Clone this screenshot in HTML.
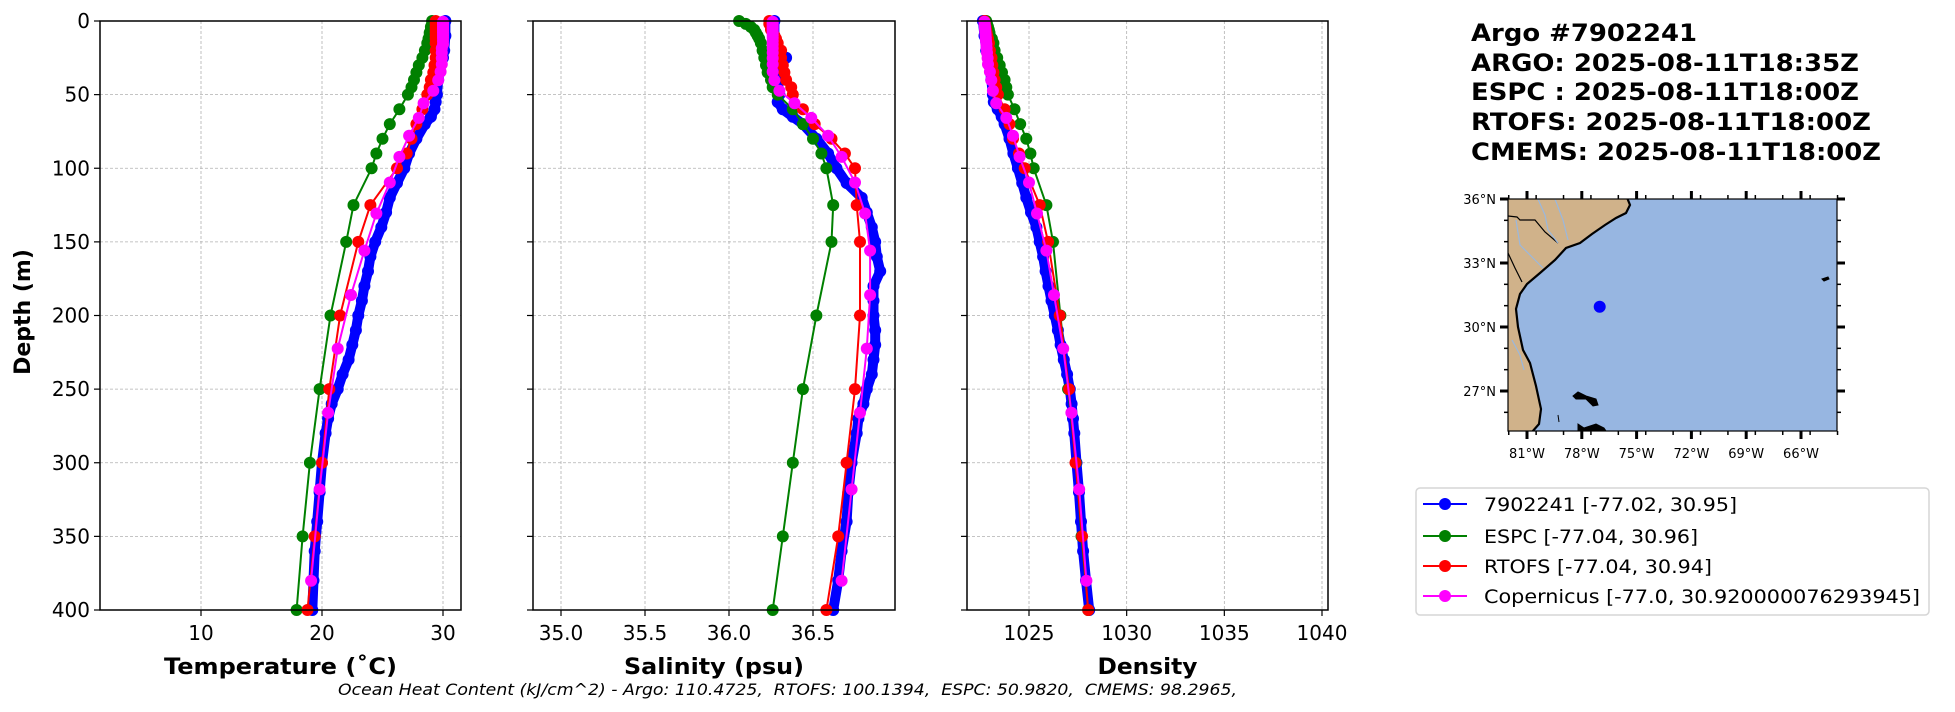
<!DOCTYPE html>
<html><head><meta charset="utf-8"><style>
html,body{margin:0;padding:0;background:#fff;}
svg{display:block;font-family:"DejaVu Sans","Liberation Sans",sans-serif;}
</style></head><body>
<svg id="fig" width="1955" height="712" viewBox="0 0 1955 712" xmlns="http://www.w3.org/2000/svg">
<g id="panels"></g>
<g id="map"></g>
<g id="titleBlock">
 <text x="1471" y="41" font-size="24" font-weight="bold" textLength="226" lengthAdjust="spacingAndGlyphs">Argo #7902241</text>
 <text x="1471" y="71" font-size="24" font-weight="bold" textLength="388" lengthAdjust="spacingAndGlyphs">ARGO: 2025-08-11T18:35Z</text>
 <text x="1471" y="100" font-size="24" font-weight="bold" textLength="388" lengthAdjust="spacingAndGlyphs">ESPC : 2025-08-11T18:00Z</text>
 <text x="1471" y="130" font-size="24" font-weight="bold" textLength="400" lengthAdjust="spacingAndGlyphs">RTOFS: 2025-08-11T18:00Z</text>
 <text x="1471" y="160" font-size="24" font-weight="bold" textLength="410" lengthAdjust="spacingAndGlyphs">CMEMS: 2025-08-11T18:00Z</text>
</g>
<g id="legend">
 <rect x="1416" y="488" width="513" height="127" rx="4" fill="#fff" stroke="#d6d6d6" stroke-width="1.5"/>
</g>
<text x="338" y="695" font-size="16" font-style="italic" style="white-space:pre" textLength="899" lengthAdjust="spacingAndGlyphs">Ocean Heat Content (kJ/cm^2) - Argo: 110.4725,  RTOFS: 100.1394,  ESPC: 50.9820,  CMEMS: 98.2965,</text>
</svg>
<script>
// ---------- data ----------
const depthTicks = [0,50,100,150,200,250,300,350,400];
const tempTicks = [10,20,30];
const salTicks = [35.0,35.5,36.0,36.5];
const salTickLabels = ["35.0","35.5","36.0","36.5"];
const densTicks = [1025,1030,1035,1040];

const argoDepth = [0,10,20,25,30,40,50,55,60,65,70,80,90,100,110,120,130,140,150,160,170,180,190,200,210,220,230,240,250,260,270,280,300,320,340,360,380,400];
const argoTemp  = [30.2,30.2,30.1,30.0,29.8,29.6,29.5,29.4,29.3,29.0,28.5,27.8,27.2,26.8,26.2,25.6,25.3,24.9,24.4,24.0,23.8,23.5,23.3,23.0,22.8,22.5,22.2,21.7,21.3,20.8,20.5,20.3,20.0,19.8,19.6,19.4,19.3,19.2];
const argoSal   = [36.27,36.27,36.28,36.34,36.29,36.29,36.30,36.29,36.32,36.38,36.44,36.52,36.59,36.64,36.70,36.79,36.82,36.85,36.87,36.88,36.90,36.86,36.86,36.86,36.87,36.87,36.86,36.85,36.82,36.80,36.77,36.76,36.73,36.71,36.70,36.67,36.65,36.62];
const argoDens  = [1022.64,1022.72,1022.81,1022.9,1022.95,1023.07,1023.15,1023.2,1023.4,1023.6,1023.75,1024.0,1024.2,1024.43,1024.65,1024.86,1025.1,1025.38,1025.55,1025.72,1025.85,1026.0,1026.15,1026.32,1026.48,1026.62,1026.78,1026.95,1027.09,1027.18,1027.25,1027.32,1027.43,1027.56,1027.66,1027.77,1027.92,1028.08];

const espcDepth = [0,2,4,6,8,10,12,15,20,25,30,35,40,45,50,60,70,80,90,100,125,150,200,250,300,350,400];
const espcTemp  = [29.1,29.1,29.0,29.0,28.9,28.9,28.8,28.7,28.5,28.3,28.0,27.8,27.6,27.4,27.1,26.4,25.6,25.0,24.5,24.1,22.6,22.0,20.7,19.8,19.0,18.4,17.9];
const espcSal   = [36.06,36.10,36.13,36.15,36.16,36.17,36.18,36.19,36.20,36.21,36.22,36.23,36.25,36.26,36.29,36.38,36.44,36.50,36.55,36.58,36.62,36.61,36.52,36.44,36.38,36.32,36.26];
const espcDens  = [1022.81,1022.85,1022.9,1022.94,1022.98,1023.0,1023.1,1023.18,1023.24,1023.37,1023.5,1023.62,1023.75,1023.84,1023.92,1024.26,1024.55,1024.86,1025.07,1025.24,1025.89,1026.23,1026.61,1027.0,1027.4,1027.69,1028.03];

const rtofsDepth = [0,2,4,6,8,10,12,15,20,25,30,35,40,45,50,60,70,80,90,100,125,150,200,250,300,350,400];
const rtofsTemp  = [29.4,29.4,29.4,29.4,29.4,29.4,29.4,29.4,29.4,29.4,29.3,29.2,29.0,28.9,28.7,28.3,27.8,27.4,27.0,26.2,24.0,23.0,21.5,20.6,20.0,19.4,18.8];
const rtofsSal   = [36.24,36.24,36.25,36.25,36.26,36.27,36.28,36.29,36.31,36.31,36.32,36.33,36.34,36.37,36.38,36.44,36.51,36.61,36.69,36.75,36.76,36.78,36.78,36.75,36.70,36.65,36.58];
const rtofsDens  = [1022.72,1022.75,1022.78,1022.8,1022.83,1022.86,1022.9,1022.95,1023.0,1023.08,1023.12,1023.18,1023.24,1023.32,1023.41,1023.75,1024.0,1024.18,1024.49,1024.78,1025.55,1025.98,1026.57,1027.05,1027.38,1027.72,1028.03];

const cmemsDepth = [0.5,1.5,2.6,3.8,5.1,6.4,7.9,9.6,11.4,13.5,15.8,18.5,21.6,25.2,29.4,34.4,40.3,47.4,55.8,65.8,77.9,92.3,109.7,130.7,155.9,186.1,222.5,266.0,318.1,380.2];
const cmemsTemp  = [30.0,30.0,30.0,30.0,30.0,30.0,30.0,30.0,30.0,30.0,30.0,29.9,29.9,29.9,29.9,29.8,29.6,29.2,28.4,28.0,27.2,26.4,25.6,24.5,23.5,22.4,21.3,20.5,19.8,19.1];
const cmemsSal   = [36.26,36.26,36.26,36.26,36.26,36.26,36.26,36.26,36.26,36.26,36.26,36.26,36.26,36.26,36.26,36.26,36.27,36.30,36.39,36.49,36.59,36.67,36.75,36.81,36.84,36.84,36.82,36.78,36.73,36.67];
const cmemsDens  = [1022.72,1022.72,1022.73,1022.74,1022.75,1022.76,1022.77,1022.78,1022.79,1022.8,1022.82,1022.83,1022.85,1022.88,1022.9,1023.0,1023.07,1023.15,1023.32,1023.84,1024.18,1024.52,1025.0,1025.41,1025.89,1026.28,1026.75,1027.17,1027.57,1027.94];

const legendLabels = ["7902241 [-77.02, 30.95]","ESPC [-77.04, 30.96]","RTOFS [-77.04, 30.94]","Copernicus [-77.0, 30.920000076293945]"];
const floatLon = [-77.02];
const floatLat = [30.95];
const mapLatTicks = [36,33,30,27];
const mapLonTicks = [-81,-78,-75,-72,-69,-66];

// ---------- helpers ----------
const NS = "http://www.w3.org/2000/svg";
function mk(tag, attrs, parent){ const e=document.createElementNS(NS,tag); for(const k in attrs) e.setAttribute(k,attrs[k]); parent.appendChild(e); return e; }
const TOP=21, BOT=610;
function yScale(d){ return TOP + d*(BOT-TOP)/400; }
function linScale(v0,p0,v1,p1){ return v => p0 + (v-v0)*(p1-p0)/(v1-v0); }

const panels = document.getElementById('panels');
const COLORS = {argo:'#0000ff', espc:'#008000', rtofs:'#ff0000', cmems:'#ff00ff'};

function drawPanel(name, x0, x1, xs, ticks, tickLabels, label, labelLen, showY, series){
  const g = mk('g',{},panels);
  
  
  ticks.forEach(t=>{ const x=xs(t);
    const l=mk('line',{x1:x,x2:x,y1:TOP,y2:BOT,stroke:'#b0b0b0','stroke-width':0.8,'stroke-dasharray':'3,2'},g);
    
    
  });
  depthTicks.forEach(d=>{ const y=yScale(d);
    const l=mk('line',{x1:x0,x2:x1,y1:y,y2:y,stroke:'#b0b0b0','stroke-width':0.8,'stroke-dasharray':'3,2'},g);
    
    
  });
  const cid='clip-'+name;
  const cp=mk('clipPath',{id:cid},g); mk('rect',{x:x0,y:TOP-8,width:x1-x0,height:BOT-TOP+16},cp);
  const sg=mk('g',{'clip-path':'url(#'+cid+')'},g);
  series.forEach(s=>{
    const pts=s.d.map((d,i)=>xs(s.v[i]).toFixed(1)+','+yScale(d).toFixed(1)).join(' ');
    if(s.thick){
      const band=mk('polyline',{points:pts,fill:'none',stroke:s.c,'stroke-width':10,'stroke-linejoin':'round','stroke-linecap':'round'},sg);
      
      
    }
    const pl=mk('polyline',{points:pts,fill:'none',stroke:s.c,'stroke-width':2},sg);
    
    
    s.d.forEach((d,i)=>{
      const c=mk('circle',{cx:xs(s.v[i]).toFixed(1),cy:yScale(d).toFixed(1),r:6,fill:s.c},sg);
      
      
    });
  });
  const fr=mk('rect',{x:x0,y:TOP,width:x1-x0,height:BOT-TOP,fill:'none',stroke:'#000','stroke-width':1.5},g);
  
  
  ticks.forEach((t,i)=>{ const x=xs(t);
    mk('line',{x1:x,x2:x,y1:BOT,y2:BOT+6,stroke:'#000','stroke-width':1.2},g);
    const tx=mk('text',{x:x,y:BOT+30,'font-size':20,'text-anchor':'middle'},g);
    tx.textContent=tickLabels[i];
    
    
  });
  depthTicks.forEach(d=>{ const y=yScale(d);
    mk('line',{x1:x0-6,x2:x0,y1:y,y2:y,stroke:'#000','stroke-width':1.2},g);
    if(showY){
      const tx=mk('text',{x:x0-10,y:y+7,'font-size':20,'text-anchor':'end'},g);
      tx.textContent=d;
      
      
    }
  });
  const xl=mk('text',{x:(x0+x1)/2,y:674,'font-size':22,'font-weight':'bold','text-anchor':'middle',textLength:labelLen,lengthAdjust:'spacingAndGlyphs'},g);
  xl.textContent=label;
  
  
}

const tX = linScale(10,201,30,443);
drawPanel('temperature',100,461,tX,tempTicks,tempTicks.map(String),'Temperature (˚C)',233,true,[
  {n:'argo',c:COLORS.argo,d:argoDepth,v:argoTemp,thick:true},
  {n:'espc',c:COLORS.espc,d:espcDepth,v:espcTemp},
  {n:'rtofs',c:COLORS.rtofs,d:rtofsDepth,v:rtofsTemp},
  {n:'cmems',c:COLORS.cmems,d:cmemsDepth,v:cmemsTemp}]);
const sX = linScale(35.0,561,36.5,813);
drawPanel('salinity',533,895,sX,salTicks,salTickLabels,'Salinity (psu)',180,false,[
  {n:'argo',c:COLORS.argo,d:argoDepth,v:argoSal,thick:true},
  {n:'espc',c:COLORS.espc,d:espcDepth,v:espcSal},
  {n:'rtofs',c:COLORS.rtofs,d:rtofsDepth,v:rtofsSal},
  {n:'cmems',c:COLORS.cmems,d:cmemsDepth,v:cmemsSal}]);
const dX = linScale(1025,1029,1040,1322);
drawPanel('density',967,1328,dX,densTicks,densTicks.map(String),'Density',100,false,[
  {n:'argo',c:COLORS.argo,d:argoDepth,v:argoDens,thick:true},
  {n:'espc',c:COLORS.espc,d:espcDepth,v:espcDens},
  {n:'rtofs',c:COLORS.rtofs,d:rtofsDepth,v:rtofsDens},
  {n:'cmems',c:COLORS.cmems,d:cmemsDepth,v:cmemsDens}]);

const yl=mk('text',{x:0,y:0,'font-size':22,'font-weight':'bold','text-anchor':'middle',transform:'translate(30,312) rotate(-90)'},panels);
yl.textContent='Depth (m)';



// ---------- map ----------
const map=document.getElementById('map');
const MX0=1508,MX1=1837,MY0=199,MY1=431;
const lonX = linScale(-81,1527,-66,1801);
const latY = linScale(36,199,27,391);
const mcp=mk('clipPath',{id:'mapclip'},map); mk('rect',{x:MX0,y:MY0,width:MX1-MX0,height:MY1-MY0},mcp);
const ocean=mk('rect',{x:MX0,y:MY0,width:MX1-MX0,height:MY1-MY0,fill:'#97b6e1'},map);


const mg=mk('g',{'clip-path':'url(#mapclip)'},map);
const land=mk('polygon',{points:'1500,195 1626,195 1630,205 1626,213 1616,218 1605,225 1592,234 1580,243 1566,248 1555,260 1540,273 1527,284 1520,294 1516,309 1518,327 1523,350 1530,363 1536,386 1541,409 1539,424 1532,432 1500,432',fill:'#d0b28a',stroke:'#000','stroke-width':2.2},mg);


mk('polyline',{points:'1508,216 1517,217 1520,220 1535,220 1545,232 1558,243',fill:'none',stroke:'#000','stroke-width':1.2},mg);
mk('polyline',{points:'1508,253 1515,268 1522,282',fill:'none',stroke:'#000','stroke-width':1.2},mg);
mk('polyline',{points:'1538,199 1545,215 1548,230 1558,243',fill:'none',stroke:'#9ab8de','stroke-width':1.2},mg);
mk('polyline',{points:'1555,199 1563,220 1568,240',fill:'none',stroke:'#9ab8de','stroke-width':1.2},mg);
mk('polyline',{points:'1516,220 1520,245 1535,260 1543,268',fill:'none',stroke:'#9ab8de','stroke-width':1.2},mg);
mk('polyline',{points:'1512,340 1520,355 1524,370',fill:'none',stroke:'#9ab8de','stroke-width':1.2},mg);
[['1573,396 1578,392 1586,396 1596,399 1598,405 1593,406 1586,399 1576,399'],['1578,424 1584,428 1596,424 1604,428 1606,431 1578,431'],['1558,415 1559,422'],['1822,279 1828,277 1829,279 1824,281']].forEach(p=>{
  const b=mk('polygon',{points:p[0],fill:'#000',stroke:'#000','stroke-width':1},mg);
  
  
});
floatLon.forEach((lo,i)=>{
  const d=mk('circle',{cx:lonX(lo),cy:latY(floatLat[i]),r:6,fill:'#0000ff'},mg);
  
  
});
const mf=mk('rect',{x:MX0,y:MY0,width:MX1-MX0,height:MY1-MY0,fill:'none',stroke:'#000','stroke-width':1.2},map);


mapLatTicks.forEach(la=>{ const y=latY(la);
  mk('line',{x1:MX0-8,x2:MX0,y1:y,y2:y,stroke:'#000','stroke-width':3},map);
  mk('line',{x1:MX1,x2:MX1+8,y1:y,y2:y,stroke:'#000','stroke-width':3},map);
  const t=mk('text',{x:MX0-12,y:y+5,'font-size':13,'text-anchor':'end'},map);
  t.textContent=la+'°N';
  
  
});
for(let la=35;la>=25.5;la-=1){ if(la%3===0) continue; const y=latY(la);
  mk('line',{x1:MX0-4,x2:MX0,y1:y,y2:y,stroke:'#000','stroke-width':1.5},map);
  mk('line',{x1:MX1,x2:MX1+4,y1:y,y2:y,stroke:'#000','stroke-width':1.5},map);
}
mapLonTicks.forEach(lo=>{ const x=lonX(lo);
  mk('line',{x1:x,x2:x,y1:MY0-8,y2:MY0,stroke:'#000','stroke-width':3},map);
  mk('line',{x1:x,x2:x,y1:MY1,y2:MY1+8,stroke:'#000','stroke-width':3},map);
  const t=mk('text',{x:x,y:458,'font-size':13,'text-anchor':'middle'},map);
  t.textContent=(-lo)+'°W';
  
  
});
for(let lo=-82;lo<=-64;lo+=1.5){ if(Math.abs(lo%3)<0.01) continue; const x=lonX(lo); if(x<MX0-1||x>MX1+1) continue;
  mk('line',{x1:x,x2:x,y1:MY0-4,y2:MY0,stroke:'#000','stroke-width':1.5},map);
  mk('line',{x1:x,x2:x,y1:MY1,y2:MY1+4,stroke:'#000','stroke-width':1.5},map);
}

// ---------- legend ----------
const leg=document.getElementById('legend');
const legColors=[COLORS.argo,COLORS.espc,COLORS.rtofs,COLORS.cmems];
const legLens=[253,214,228,436];
const legY=[504,536,566,596];
legendLabels.forEach((lab,i)=>{
  const g=mk('g',{},leg);
  
  
  mk('line',{x1:1423,x2:1467,y1:legY[i],y2:legY[i],stroke:legColors[i],'stroke-width':2},g);
  mk('circle',{cx:1445,cy:legY[i],r:6,fill:legColors[i]},g);
  const t=mk('text',{x:1484,y:legY[i]+7,'font-size':19,textLength:legLens[i],lengthAdjust:'spacingAndGlyphs'},g);
  t.textContent=lab;
});
</script>
</body></html>
